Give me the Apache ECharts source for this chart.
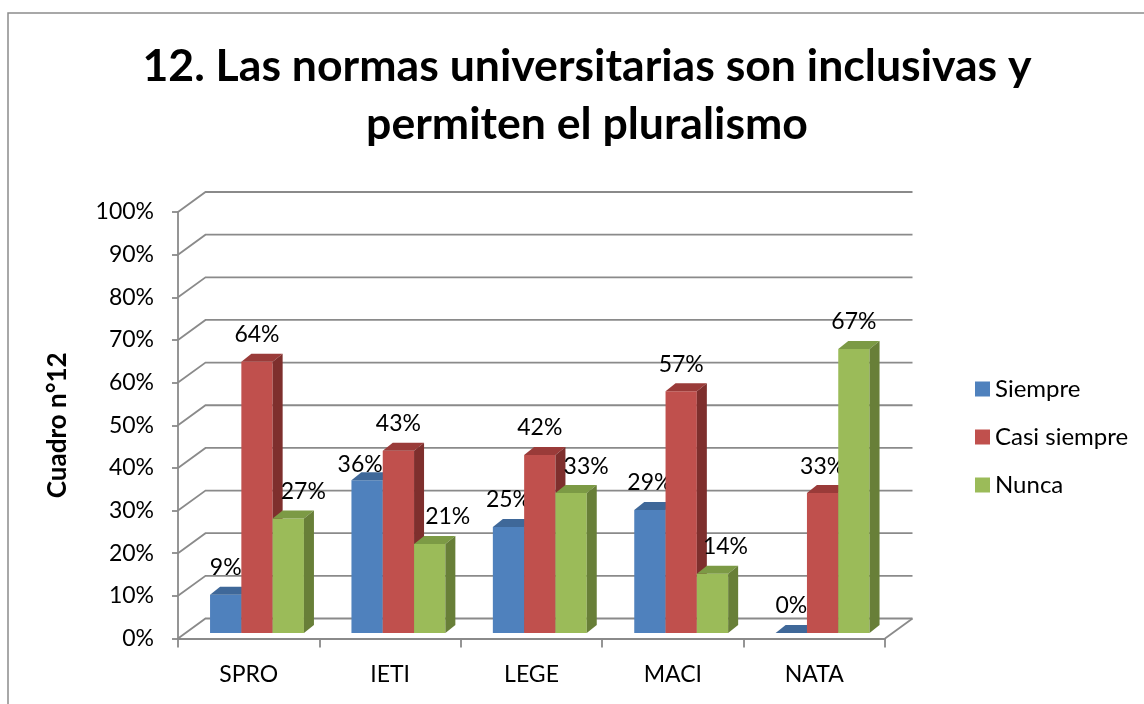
<!DOCTYPE html>
<html><head><meta charset="utf-8">
<script src="https://cdn.jsdelivr.net/npm/echarts@6/dist/echarts.min.js"></script>
<style>html,body{margin:0;padding:0;background:#fff}#c{width:1144px;height:704px}</style>
</head><body><div id="c"></div>
<script>
// ---- data ----
const categories = ['SPRO', 'IETI', 'LEGE', 'MACI', 'NATA'];
const seriesNames = ['Siempre', 'Casi siempre', 'Nunca'];
const siempre = [9, 36, 25, 29, 0];
const casiSiempre = [64, 43, 42, 57, 33];
const nunca = [27, 21, 33, 14, 67];
const yTicks = [0, 10, 20, 30, 40, 50, 60, 70, 80, 90, 100];
const titleText = '12. Las normas universitarias son inclusivas y\npermiten el pluralismo';
const yAxisTitle = 'Cuadro n°12';

// ---- style ----
const FONT = 'Lato';
const GRID_COLOR = '#8a8a8a';
const faceColors = [
  { front: '#4F81BD', top: '#3F6899', side: '#385D8A' },
  { front: '#C0504D', top: '#9A3B39', side: '#7E2F2D' },
  { front: '#9BBB59', top: '#7C9A45', side: '#687F38' }
];
const DX = 10, DY = -8, BAR_W = 31.3;
const WALL_DX = 27.5, WALL_DY = -20;
const LABEL_NUDGE = { '2-0': [15, 0], '2-1': [18, 0], '2-2': [15, 0], '2-3': [13, 0], '0-1': [-7, 11] };

const values = [siempre, casiSiempre, nunca];

function barRender(k) {
  return function (params, api) {
    const ci = api.value(0), v = api.value(1);
    const top = api.coord([ci, v]);
    const base = api.coord([ci, 0]);
    const x0 = top[0] - 1.5 * BAR_W + k * BAR_W;
    const x1 = x0 + BAR_W;
    const yT = top[1], yB = base[1];
    const c = faceColors[k];
    const nud = LABEL_NUDGE[k + '-' + ci] || [0, 0];
    return {
      type: 'group', children: [
        { type: 'rect', shape: { x: x0, y: yT, width: BAR_W, height: yB - yT }, style: { fill: c.front } },
        { type: 'polygon', shape: { points: [[x0, yT], [x1, yT], [x1 + DX, yT + DY], [x0 + DX, yT + DY]] }, style: { fill: c.top } },
        { type: 'polygon', shape: { points: [[x1, yT], [x1 + DX, yT + DY], [x1 + DX, yB + DY], [x1, yB]] }, style: { fill: c.side } },
        { type: 'text', x: (x0 + x1) / 2 + nud[0], y: yT - 27 + nud[1],
          style: { text: v + '%', fill: '#000', fontSize: 23, fontFamily: FONT, align: 'center', verticalAlign: 'middle' } }
      ]
    };
  };
}

function gridRender(params, api) {
  const cs = params.coordSys;
  const v = api.value(1);
  const y = api.coord([0, v])[1];
  const children = [{
    type: 'polyline',
    shape: { points: [[cs.x, y], [cs.x + WALL_DX, y + WALL_DY], [cs.x + cs.width + WALL_DX, y + WALL_DY]] },
    style: { stroke: GRID_COLOR, lineWidth: 1.8, fill: null }
  }];
  if (v === 0) {
    children.push({
      type: 'line',
      shape: { x1: cs.x + cs.width, y1: y, x2: cs.x + cs.width + WALL_DX, y2: y + WALL_DY },
      style: { stroke: GRID_COLOR, lineWidth: 1.8 }
    });
  }
  return { type: 'group', children };
}

const chart = echarts.init(document.getElementById('c'), null, { renderer: 'canvas' });

const series = [{
  type: 'custom', name: '_grid', silent: true,
  xAxisIndex: 0, yAxisIndex: 0,
  data: yTicks.map(v => [0, v]),
  renderItem: gridRender, z: 1
}];
seriesNames.forEach((n, k) => {
  series.push({
    type: 'custom', name: n, xAxisIndex: 1, yAxisIndex: 1,
    itemStyle: { color: faceColors[k].front },
    data: values[k].map((v, i) => [i, v]),
    renderItem: barRender(k), z: 3
  });
});

chart.setOption({
  backgroundColor: '#fff',
  animation: false,
  title: {
    text: titleText, left: 582, top: 33, textAlign: 'center',
    textStyle: { fontFamily: FONT, fontWeight: 'bold', fontSize: 44.6, lineHeight: 58, color: '#000' }
  },
  legend: {
    data: seriesNames, orient: 'vertical', left: 970, top: 372,
    itemWidth: 15, itemHeight: 15, itemGap: 24, icon: 'rect',
    textStyle: { fontFamily: FONT, fontSize: 24, color: '#000', lineHeight: 24 }
  },
  graphic: [{
    type: 'rect', shape: { x: 8, y: 13, width: 1300, height: 900 },
    style: { fill: null, stroke: '#8c8c8c', lineWidth: 1.5 }, silent: true
  }],
  grid: [
    { left: 178, right: 1144 - 885, top: 212, bottom: 704 - 638.5 },
    { left: 186.3, right: 1144 - 893.3, top: 209, bottom: 704 - 633 }
  ],
  xAxis: [
    {
      type: 'category', gridIndex: 0, data: categories,
      axisLine: { show: true, lineStyle: { color: GRID_COLOR, width: 1.8 } },
      axisTick: { show: true, length: 9, interval: 0, lineStyle: { color: GRID_COLOR, width: 1.8 } },
      axisLabel: { fontFamily: FONT, fontSize: 23, color: '#000', margin: 25, interval: 0 },
      splitLine: { show: false }
    },
    { type: 'category', gridIndex: 1, data: categories, show: false }
  ],
  yAxis: [
    {
      type: 'value', gridIndex: 0, min: 0, max: 100, interval: 10,
      name: yAxisTitle, nameLocation: 'middle', nameRotate: 90, nameGap: 107,
      nameTextStyle: { fontFamily: FONT, fontWeight: 'bold', fontSize: 26, color: '#000' },
      axisLine: { show: true, lineStyle: { color: GRID_COLOR, width: 1.8 } },
      axisTick: { show: true, length: 6, lineStyle: { color: GRID_COLOR, width: 1.8 } },
      axisLabel: { fontFamily: FONT, fontSize: 23, color: '#000', margin: 24, formatter: '{value}%' },
      splitLine: { show: false }
    },
    { type: 'value', gridIndex: 1, min: 0, max: 100, interval: 10, show: false }
  ],
  series
});
</script>
</body></html>
